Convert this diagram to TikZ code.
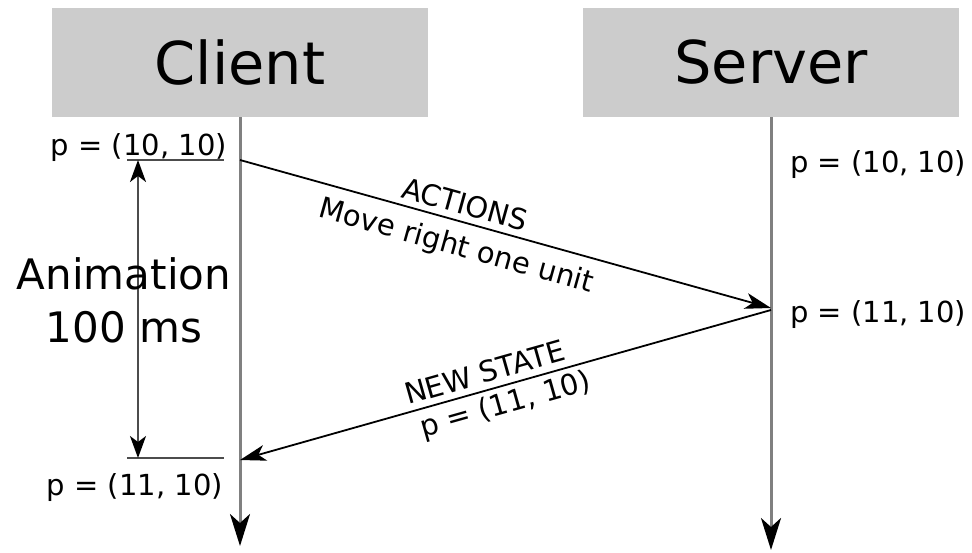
\documentclass[tikz,border=0pt]{standalone}
\usepackage{fontspec}
\setmainfont{DejaVu Sans}
\usetikzlibrary{arrows.meta,positioning}

\tikzset{
  actor/.style={fill=black!20, minimum width=376pt, minimum height=109pt,
    inner sep=0pt, font=\fontsize{59}{70}\selectfont},
  lbl/.style={inner sep=2pt, font=\fontsize{29}{34}\selectfont},
  lifeline/.style={draw=black!50, line width=3pt,
    -{Stealth[length=32pt,width=20pt,inset=9pt,black]}},
  msg/.style={draw=black, line width=1.8pt,
    -{Stealth[length=26pt,width=16pt,inset=7pt]}},
  timing/.style={draw=black!70, line width=2pt},
}

\begin{document}
\begin{tikzpicture}[x=1pt,y=-1pt]
   \useasboundingbox (0,0) rectangle (972,552);
   \node[actor] (client) at (240,62.5) {Client};
   \node[actor] (server) at (771,62.5) {Server};
   \coordinate (client_end) at (240,546);
   \coordinate (server_end) at (771,550);
   \draw[lifeline] (client.south) -- (client_end);
   \draw[lifeline] (server.south) -- (server_end);

   % messages
   \coordinate (c_send) at (240,160);
   \coordinate (s_recv) at (771,308);
   \coordinate (s_send) at (771,310);
   \coordinate (c_recv) at (240,460);
   \path
    (c_send) edge[msg] node[lbl, sloped, pos=0.415, above=4pt] {ACTIONS}
                  node[lbl, sloped, pos=0.42, below=9pt] {Move right one unit} (s_recv)
    (s_send) edge[msg] node[lbl, sloped, pos=0.53, above=4pt] {NEW STATE}
                  node[lbl, sloped, pos=0.51, below=3pt] {p = (11, 10)} (c_recv);

   % states
   \node[lbl, anchor=base east] (c_old) at (229,155) {p = (10, 10)};
   \node[lbl, anchor=base east] (c_new) at (225,495) {p = (11, 10)};
   \node[lbl, anchor=base west] (s_old) at (788,172) {p = (10, 10)};
   \node[lbl, anchor=base west] (s_new) at (788,322) {p = (11, 10)};

   % animation time
   \coordinate (t_top) at (138,160);
   \coordinate (t_bot) at (138,458);
   \draw[timing] (127,160) -- (224,160);
   \draw[timing] (127,458) -- (224,458);
   \draw[timing, {Stealth[length=22pt,width=16pt,inset=6pt,black]}-{Stealth[length=22pt,width=16pt,inset=6pt,black]}]
    (t_top) -- (t_bot);
   \node[align=center, inner sep=0pt, font=\fontsize{42}{53}\selectfont] (anim) at (124,300)
    {Animation\\100 ms};
\end{tikzpicture}
\end{document}
